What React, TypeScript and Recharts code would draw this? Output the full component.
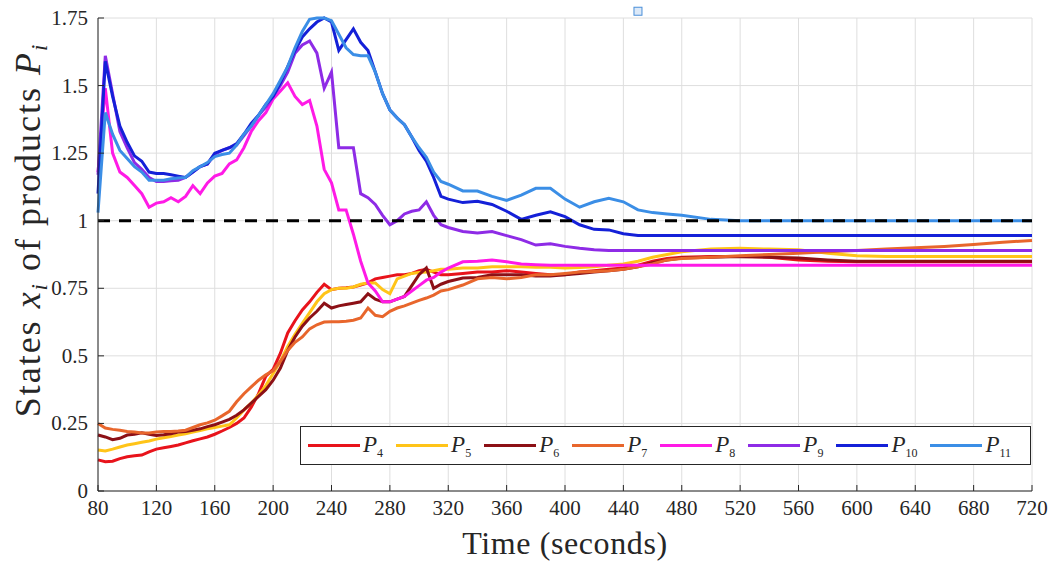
import React from 'react';
import { LineChart, Line, XAxis, YAxis, CartesianGrid, ReferenceLine, ReferenceDot, Legend } from 'recharts';

// time axis (seconds), shared by all series
const TIMES = [
  80, 85, 90, 95, 100, 105, 110, 115, 120, 125,
  130, 135, 140, 145, 150, 155, 160, 165, 170, 175,
  180, 185, 190, 195, 200, 205, 210, 215, 220, 225,
  230, 235, 240, 245, 250, 255, 260, 265, 270, 275,
  280, 285, 290, 295, 300, 305, 310, 315, 320,
  330, 340, 350, 360, 370, 380, 390, 400, 410, 420,
  430, 440, 450, 460, 470, 480,
  500, 520, 540, 560, 580, 600, 620, 640, 660, 680, 700, 720,
];

const P4 = [
  0.115, 0.108, 0.11, 0.12, 0.127, 0.13, 0.133, 0.145, 0.155, 0.16,
  0.165, 0.17, 0.178, 0.186, 0.193, 0.2, 0.21, 0.222, 0.235, 0.25,
  0.27, 0.31, 0.36, 0.425, 0.45, 0.51, 0.585, 0.63, 0.67, 0.7,
  0.735, 0.765, 0.745, 0.75, 0.752, 0.755, 0.762, 0.77, 0.785, 0.79,
  0.795, 0.8, 0.8, 0.805, 0.815, 0.82, 0.81, 0.8, 0.8,
  0.805, 0.81, 0.81, 0.815, 0.81, 0.805, 0.8, 0.8, 0.81, 0.815,
  0.82, 0.825, 0.835, 0.85, 0.86, 0.865,
  0.868, 0.868, 0.865, 0.855, 0.85, 0.848, 0.848, 0.848, 0.848, 0.848, 0.848, 0.848,
];

const P5 = [
  0.152, 0.148, 0.155, 0.163, 0.17, 0.175, 0.18, 0.185, 0.192, 0.197,
  0.202, 0.207, 0.212, 0.218, 0.224, 0.23, 0.235, 0.24, 0.245, 0.27,
  0.3, 0.325, 0.355, 0.39, 0.435, 0.48, 0.535, 0.58, 0.62, 0.66,
  0.7, 0.73, 0.745, 0.75, 0.75, 0.755, 0.765, 0.77, 0.77, 0.745,
  0.73, 0.785, 0.795, 0.805, 0.808, 0.81, 0.815, 0.82, 0.82,
  0.825, 0.825, 0.83, 0.83, 0.83, 0.828, 0.828, 0.825, 0.827, 0.83,
  0.835, 0.84, 0.85, 0.865, 0.875, 0.885,
  0.895, 0.898, 0.895, 0.893, 0.88, 0.87, 0.868, 0.868, 0.868, 0.868, 0.868, 0.868,
];

const P6 = [
  0.207, 0.2, 0.19, 0.195, 0.207, 0.21, 0.215, 0.21, 0.205, 0.208,
  0.212, 0.218, 0.22, 0.225, 0.23, 0.238, 0.245, 0.255, 0.265, 0.28,
  0.3, 0.325, 0.35, 0.375, 0.41, 0.455, 0.52, 0.57, 0.61, 0.64,
  0.665, 0.695, 0.677, 0.685, 0.69, 0.695, 0.7, 0.73, 0.71, 0.7,
  0.7, 0.71, 0.72, 0.76, 0.8, 0.825, 0.75, 0.765, 0.775,
  0.788, 0.79, 0.8, 0.8, 0.8, 0.795, 0.795, 0.8, 0.805, 0.81,
  0.815, 0.82, 0.83, 0.845, 0.855, 0.862,
  0.865, 0.868, 0.865, 0.862, 0.855, 0.85, 0.85, 0.85, 0.85, 0.85, 0.85, 0.85,
];

const P7 = [
  0.25, 0.233, 0.228, 0.225, 0.22, 0.218, 0.215, 0.215, 0.218, 0.22,
  0.22, 0.222, 0.225, 0.235, 0.245, 0.252, 0.262, 0.278, 0.295, 0.33,
  0.36, 0.385, 0.41, 0.43, 0.445, 0.48, 0.52, 0.55, 0.57, 0.6,
  0.615, 0.625, 0.626, 0.626, 0.628, 0.632, 0.64, 0.677, 0.65, 0.645,
  0.665, 0.677, 0.685, 0.695, 0.705, 0.714, 0.725, 0.74, 0.745,
  0.762, 0.785, 0.79, 0.785, 0.79, 0.8, 0.8, 0.805, 0.81, 0.812,
  0.815, 0.82, 0.83, 0.84, 0.855, 0.86,
  0.865, 0.87, 0.875, 0.88, 0.885, 0.89, 0.895, 0.9, 0.905, 0.912, 0.92, 0.927,
];

const P8 = [
  1.18, 1.49, 1.25, 1.18, 1.16, 1.13, 1.1, 1.05, 1.065, 1.07,
  1.085, 1.07, 1.09, 1.13, 1.1, 1.14, 1.165, 1.175, 1.21, 1.225,
  1.27, 1.33, 1.37, 1.4, 1.45, 1.48, 1.51, 1.46, 1.43, 1.445,
  1.35, 1.19, 1.14, 1.04, 1.04, 0.95, 0.85, 0.77, 0.74, 0.7,
  0.7, 0.71, 0.72, 0.74, 0.76, 0.78, 0.79, 0.81, 0.825,
  0.848, 0.85, 0.855, 0.848, 0.84, 0.837, 0.835, 0.835, 0.835, 0.835,
  0.835, 0.835, 0.835, 0.835, 0.835, 0.835,
  0.835, 0.835, 0.835, 0.835, 0.835, 0.835, 0.835, 0.835, 0.835, 0.835, 0.835, 0.835,
];

const P9 = [
  1.17, 1.61, 1.47, 1.33, 1.27, 1.215, 1.19, 1.16, 1.145, 1.145,
  1.148, 1.15, 1.16, 1.18, 1.2, 1.21, 1.245, 1.26, 1.27, 1.28,
  1.315, 1.35, 1.39, 1.42, 1.46, 1.5, 1.55, 1.62, 1.65, 1.665,
  1.62, 1.49, 1.55, 1.27, 1.27, 1.27, 1.1, 1.085, 1.06, 1.02,
  0.985, 1.0, 1.025, 1.035, 1.04, 1.07, 1.02, 0.985, 0.975,
  0.96, 0.955, 0.96, 0.945, 0.93, 0.91, 0.915, 0.905, 0.898, 0.893,
  0.89, 0.89, 0.89, 0.89, 0.89, 0.89,
  0.89, 0.89, 0.89, 0.89, 0.89, 0.89, 0.89, 0.89, 0.89, 0.89, 0.89, 0.89,
];

const P10 = [
  1.1, 1.59, 1.46, 1.35, 1.29, 1.24, 1.22, 1.18, 1.175, 1.175,
  1.17, 1.165, 1.16, 1.18, 1.2, 1.21, 1.25, 1.26, 1.27, 1.285,
  1.32, 1.36, 1.39, 1.43, 1.46, 1.51, 1.57, 1.63, 1.68, 1.71,
  1.735, 1.75, 1.735, 1.63, 1.67, 1.71, 1.66, 1.63, 1.55, 1.47,
  1.41, 1.38, 1.355, 1.31, 1.26, 1.22, 1.16, 1.09, 1.08,
  1.067, 1.072, 1.06, 1.035, 1.005, 1.02, 1.033, 1.015, 0.985, 0.968,
  0.966, 0.952, 0.945, 0.945, 0.945, 0.945,
  0.945, 0.945, 0.945, 0.945, 0.945, 0.945, 0.945, 0.945, 0.945, 0.945, 0.945, 0.945,
];

const P11 = [
  1.03, 1.4, 1.32, 1.26, 1.23, 1.2, 1.18, 1.15, 1.15, 1.15,
  1.155, 1.158, 1.16, 1.185, 1.2, 1.215, 1.237, 1.245, 1.25, 1.28,
  1.32, 1.35, 1.39, 1.43, 1.47, 1.52, 1.57, 1.64, 1.7, 1.745,
  1.75, 1.75, 1.74, 1.69, 1.64, 1.615, 1.61, 1.61, 1.55, 1.47,
  1.41, 1.38, 1.355, 1.31, 1.27, 1.235, 1.18, 1.145, 1.135,
  1.11, 1.11, 1.09, 1.075, 1.095, 1.12, 1.12, 1.08, 1.05, 1.07,
  1.083, 1.07, 1.04, 1.03, 1.025, 1.02,
  1.005, 1.0, 1.0, 1.0, 1.0, 1.0, 1.0, 1.0, 1.0, 1.0, 1.0, 1.0,
];

const SERIES = [
  { key: 'P4', color: '#E8131B', values: P4 },
  { key: 'P5', color: '#FFC418', values: P5 },
  { key: 'P6', color: '#8C1016', values: P6 },
  { key: 'P7', color: '#E8662C', values: P7 },
  { key: 'P8', color: '#FF1AE6', values: P8 },
  { key: 'P9', color: '#8E2BE6', values: P9 },
  { key: 'P10', color: '#1420D8', values: P10 },
  { key: 'P11', color: '#3B8EE6', values: P11 },
];
const SERIES_ORDER = SERIES.map((s) => s.key);

const X_TICKS = [80, 120, 160, 200, 240, 280, 320, 360, 400, 440, 480, 520, 560, 600, 640, 680, 720];
const Y_TICKS = [0, 0.25, 0.5, 0.75, 1, 1.25, 1.5, 1.75];
const TARGET = 1;
const MARKER_T = 450;
const MARKER_Y = 1.775;

const data = TIMES.map((t, i) => {
  const row: Record<string, number> = { t };
  SERIES.forEach((s) => { row[s.key] = s.values[i]; });
  return row;
});

const FONT = '"Liberation Serif", "DejaVu Serif", serif';
const INK = '#262626';

const XTick = (props: any) => {
  const { x, y, payload } = props;
  const axisY = y - 8;
  return (
    <g>
      <line x1={x} x2={x} y1={axisY} y2={axisY - 6} stroke={INK} strokeWidth={1} />
      <text x={x} y={y} dy={16} textAnchor="middle" fontFamily={FONT} fontSize={21} fill={INK}>
        {payload.value}
      </text>
    </g>
  );
};

const YTick = (props: any) => {
  const { x, y, payload } = props;
  const axisX = x + 10;
  return (
    <g>
      <line x1={axisX} x2={axisX + 6} y1={y} y2={y} stroke={INK} strokeWidth={1} />
      <text x={x} y={y} dy={7} textAnchor="end" fontFamily={FONT} fontSize={21} fill={INK}>
        {String(payload.value)}
      </text>
    </g>
  );
};

const XTitle = () => (
  <text x={565} y={554} textAnchor="middle" fontFamily={FONT} fontSize={32} letterSpacing={0.6} fill={INK}>
    Time (seconds)
  </text>
);

const YTitle = () => (
  <text
    x={40}
    y={230}
    transform="rotate(-90 40 230)"
    textAnchor="middle"
    fontFamily={FONT}
    fontSize={36}
    letterSpacing={2}
    fill={INK}
  >
    States <tspan fontStyle="italic">x</tspan>
    <tspan fontStyle="italic" fontSize={23} dy={7}>i</tspan>
    <tspan dy={-7}> of products </tspan>
    <tspan fontStyle="italic">P</tspan>
    <tspan fontStyle="italic" fontSize={23} dy={7}>i</tspan>
  </text>
);

const LegendBox = (props: any) => {
  const items = [...(props.payload || [])].sort(
    (a: any, b: any) => SERIES_ORDER.indexOf(a.value) - SERIES_ORDER.indexOf(b.value),
  );
  return (
    <div
      style={{
        width: 731,
        height: 39,
        boxSizing: 'border-box',
        border: `1.5px solid ${INK}`,
        background: '#fff',
        display: 'flex',
        alignItems: 'center',
        paddingLeft: 7,
        fontFamily: FONT,
        color: INK,
      }}
    >
      {items.map((it: any) => (
        <div key={it.value} style={{ display: 'flex', alignItems: 'center', marginRight: 13 }}>
          <div style={{ width: 52, height: 3, background: it.color }} />
          <span style={{ fontStyle: 'italic', fontSize: 23, marginLeft: 3, lineHeight: 1 }}>
            P
            <span style={{ fontSize: 12, fontStyle: 'normal', verticalAlign: -5 }}>{String(it.value).slice(1)}</span>
          </span>
        </div>
      ))}
    </div>
  );
};

export default function App() {
  return (
    <div style={{ position: 'absolute', left: 0, top: 0, background: '#fff' }}>
      <LineChart width={1050} height={564} data={data} margin={{ top: 18, right: 18, left: 0, bottom: 0 }}>
        <CartesianGrid stroke="#dedede" strokeWidth={1} />
        <XAxis
          dataKey="t"
          type="number"
          domain={[80, 720]}
          ticks={X_TICKS}
          height={73}
          tickSize={0}
          tickMargin={8}
          tick={<XTick />}
          stroke={INK}
          label={{ content: <XTitle /> }}
        />
        <YAxis
          type="number"
          domain={[0, 1.75]}
          ticks={Y_TICKS}
          width={98}
          tickSize={0}
          tickMargin={10}
          tick={<YTick />}
          stroke={INK}
          label={{ content: <YTitle /> }}
        />
        {SERIES.map((s) => (
          <Line
            key={s.key}
            dataKey={s.key}
            name={s.key}
            stroke={s.color}
            strokeWidth={3}
            dot={false}
            type="linear"
            isAnimationActive={false}
          />
        ))}
        <ReferenceLine y={TARGET} stroke="#000" strokeWidth={3} strokeDasharray="12 9" />
        <ReferenceDot
          x={MARKER_T}
          y={MARKER_Y}
          ifOverflow="visible"
          shape={(p: any) => (
            <rect x={p.cx - 4} y={p.cy - 4} width={8} height={8} fill="#dce9f8" stroke="#4a8fd8" strokeWidth={1} />
          )}
        />
        <Legend
          layout="horizontal"
          verticalAlign="middle"
          align="center"
          content={<LegendBox />}
          wrapperStyle={{ position: 'absolute', left: 300, top: 426, width: 731, height: 39 }}
        />
      </LineChart>
    </div>
  );
}
